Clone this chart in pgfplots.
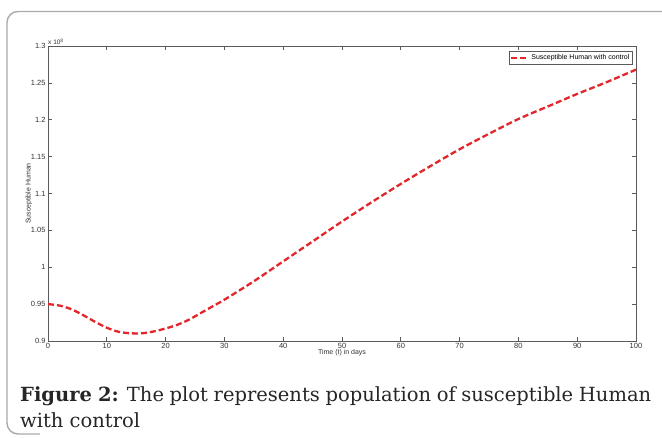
\documentclass[border=0pt]{standalone}
\usepackage{pgfplots}
\pgfplotsset{compat=1.18}
\usepackage{fontspec}
\setmainfont{DejaVu Serif}
\newfontfamily\arial{Liberation Sans}
\definecolor{axgray}{HTML}{5A5A5A}
\definecolor{txtgray}{HTML}{333333}
\definecolor{framegray}{HTML}{AAAAAA}
\definecolor{curvered}{HTML}{E3262B}
\begin{document}
\begin{tikzpicture}[x=1pt,y=1pt]
\path[use as bounding box, fill=white] (0,0) rectangle (662,-438);
\draw[framegray, line width=1.4pt, rounded corners=11pt] (680,-11.5) -- (7,-11.5) -- (7,-434) -- (40,-434);
\begin{axis}[
  at={(48pt,-341pt)}, anchor=south west,
  scale only axis, width=588pt, height=295pt,
  xmin=0, xmax=100, ymin=0.9, ymax=1.3,
  xtick={0,10,20,30,40,50,60,70,80,90,100},
  ytick={0.9,0.95,1,1.05,1.1,1.15,1.2,1.25,1.3},
  yticklabels={0.9,0.95,1,1.05,1.1,1.15,1.2,1.25,1.3},
  tick align=inside, major tick length=4pt,
  axis line style={axgray, line width=0.8pt},
  tick style={axgray, line width=0.7pt},
  ticklabel style={font=\arial\fontsize{7.5}{8}\selectfont, text=txtgray},
  /pgf/number format/assume math mode=true,
  xticklabel style={yshift=1pt},
  yticklabel style={xshift=1pt},
  xlabel={Time (t) in days},
  ylabel={Susceptible Human},
  label style={font=\arial\fontsize{7}{8}\selectfont, text=txtgray},
  xlabel style={yshift=6pt},
  ylabel style={yshift=-8pt},
  legend style={at={(rel axis cs:0.9944,0.983)}, anchor=north east,
    font=\arial\fontsize{7}{8}\selectfont, draw=axgray, line width=0.6pt,
    inner sep=1pt, row sep=-1pt},
  legend cell align=left,
  legend image post style={line width=2pt},
  clip=false,
]
\addplot[curvered, line width=2.3pt, dash pattern=on 6pt off 3pt, smooth] coordinates {
(0,0.950) (2,0.948) (4,0.943) (6,0.935) (8,0.926) (10,0.918) (12,0.9125)
(14,0.9105) (16,0.9105) (18,0.913) (20,0.917) (22,0.922) (24,0.929)
(26,0.938) (28,0.947) (30,0.956) (35,0.981) (40,1.008) (45,1.035)
(50,1.062) (55,1.088) (60,1.113) (65,1.137) (70,1.160) (75,1.181)
(80,1.201) (85,1.218) (90,1.235) (95,1.251) (100,1.268)
};
\addlegendentry{Susceptible Human with control}
\node[font=\arial\fontsize{6.5}{7}\selectfont, text=txtgray, anchor=south west, inner sep=0pt]
  at (rel axis cs:0,1) {\raisebox{1pt}{x 10$^{\mathrm{8}}$}};
\end{axis}
\node[anchor=base west, text width=631pt, align=justify, inner sep=0pt,
  font=\fontsize{19.5}{26}\selectfont, text=black!85]
  at (20,-402) {\textbf{Figure 2:} The plot represents population of susceptible Human\linebreak with control};
\end{tikzpicture}
\end{document}
